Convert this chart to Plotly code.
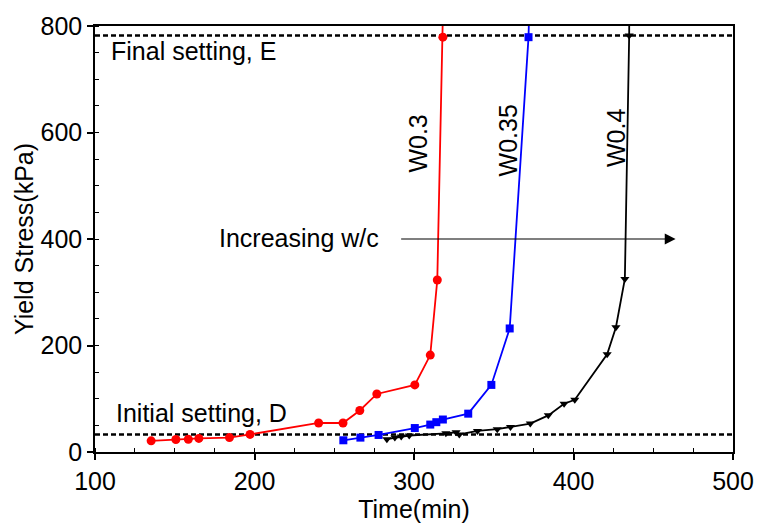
import plotly.graph_objects as go

# W0.3 (red circles)
t_w03 = [135.2, 150.7, 158.5, 165.1, 184.3, 197.2, 240.2, 255.5, 266.0, 276.7, 300.5, 310.2, 314.6, 318.1, 318.3]
y_w03 = [21, 23.5, 24, 25.5, 27, 33, 54.5, 54.5, 78, 109, 126, 182, 323, 779, 850]
# W0.35 (blue squares)
t_w035 = [255.7, 266.4, 277.8, 300.5, 310.2, 314.0, 318.1, 334.0, 348.5, 360.0, 371.8, 372.4]
y_w035 = [22, 27, 32, 45, 51.5, 56, 61, 72, 126, 232, 779, 850]
# W0.4 (black down-triangles)
t_w04 = [283, 288, 292, 297, 320, 326.4, 328.4, 339.8, 352.2, 360.5, 372.9, 384.2, 394.1, 400.8, 421.1, 426.6, 432.2, 434.9, 435.0]
y_w04 = [24, 27, 29, 31, 35, 37, 33, 39.6, 42.8, 47, 53.4, 68.8, 90.6, 98, 183.6, 234.4, 325, 782, 850]

initial_setting = 33
final_setting = 782
x_range = [100, 500]
y_range = [0, 800]

FONT = "Liberation Sans, Arial, sans-serif"

fig = go.Figure()

for level in [initial_setting, final_setting]:
    fig.add_trace(go.Scatter(x=x_range, y=[level, level], mode="lines",
                             line=dict(color="black", width=2.5, dash="5px,3px"),
                             showlegend=False, hoverinfo="skip"))

fig.add_trace(go.Scatter(x=t_w03, y=y_w03, mode="lines+markers",
                         line=dict(color="#ff0000", width=1.8),
                         marker=dict(symbol="circle", size=9, color="#ff0000"),
                         showlegend=False))
fig.add_trace(go.Scatter(x=t_w035, y=y_w035, mode="lines+markers",
                         line=dict(color="#0000ff", width=1.8),
                         marker=dict(symbol="square", size=8, color="#0000ff"),
                         showlegend=False))
fig.add_trace(go.Scatter(x=t_w04, y=y_w04, mode="lines+markers",
                         line=dict(color="black", width=1.8),
                         marker=dict(symbol="triangle-down", size=8, color="black"),
                         showlegend=False))

ann_font = dict(family=FONT, size=25, color="black")
fig.add_annotation(x=109, y=754, text="Final setting, E", showarrow=False,
                   xanchor="left", yanchor="middle", font=ann_font)
fig.add_annotation(x=112, y=73, text="Initial setting, D", showarrow=False,
                   xanchor="left", yanchor="middle", font=ann_font)
fig.add_annotation(x=228, y=402, text="Increasing w/c", showarrow=False,
                   xanchor="center", yanchor="middle", font=ann_font)
fig.add_annotation(x=464, y=400, ax=291, ay=400, axref="x", ayref="y",
                   xref="x", yref="y", text="", showarrow=True,
                   arrowhead=2, arrowsize=1.8, arrowwidth=1.2, arrowcolor="black")
fig.add_annotation(x=302.8, y=580, text="W0.3", textangle=-90, showarrow=False, font=ann_font)
fig.add_annotation(x=359.2, y=586, text="W0.35", textangle=-90, showarrow=False, font=ann_font)
fig.add_annotation(x=426.8, y=590, text="W0.4", textangle=-90, showarrow=False, font=ann_font)

axis_common = dict(showgrid=False, zeroline=False, showline=True, linecolor="black",
                   linewidth=1.5, mirror=True, ticks="outside", ticklen=6,
                   tickwidth=1.5, tickcolor="black",
                   tickfont=dict(family=FONT, size=25, color="black"))
fig.update_xaxes(range=x_range, dtick=100, tick0=0,
                 minor=dict(dtick=25, ticks="inside", ticklen=4, tickcolor="black", tickwidth=1.2),
                 title=dict(text="Time(min)", font=dict(family=FONT, size=25, color="black"), standoff=2),
                 **axis_common)
fig.update_yaxes(range=y_range, dtick=200, tick0=0,
                 minor=dict(dtick=50, ticks="inside", ticklen=4, tickcolor="black", tickwidth=1.2),
                 title=dict(text="Yield Stress(kPa)", font=dict(family=FONT, size=25, color="black"), standoff=0),
                 **axis_common)

fig.update_layout(width=766, height=528, margin=dict(l=95, r=24, t=20, b=76),
                  plot_bgcolor="white", paper_bgcolor="white", showlegend=False)

fig.write_html("out.html")
